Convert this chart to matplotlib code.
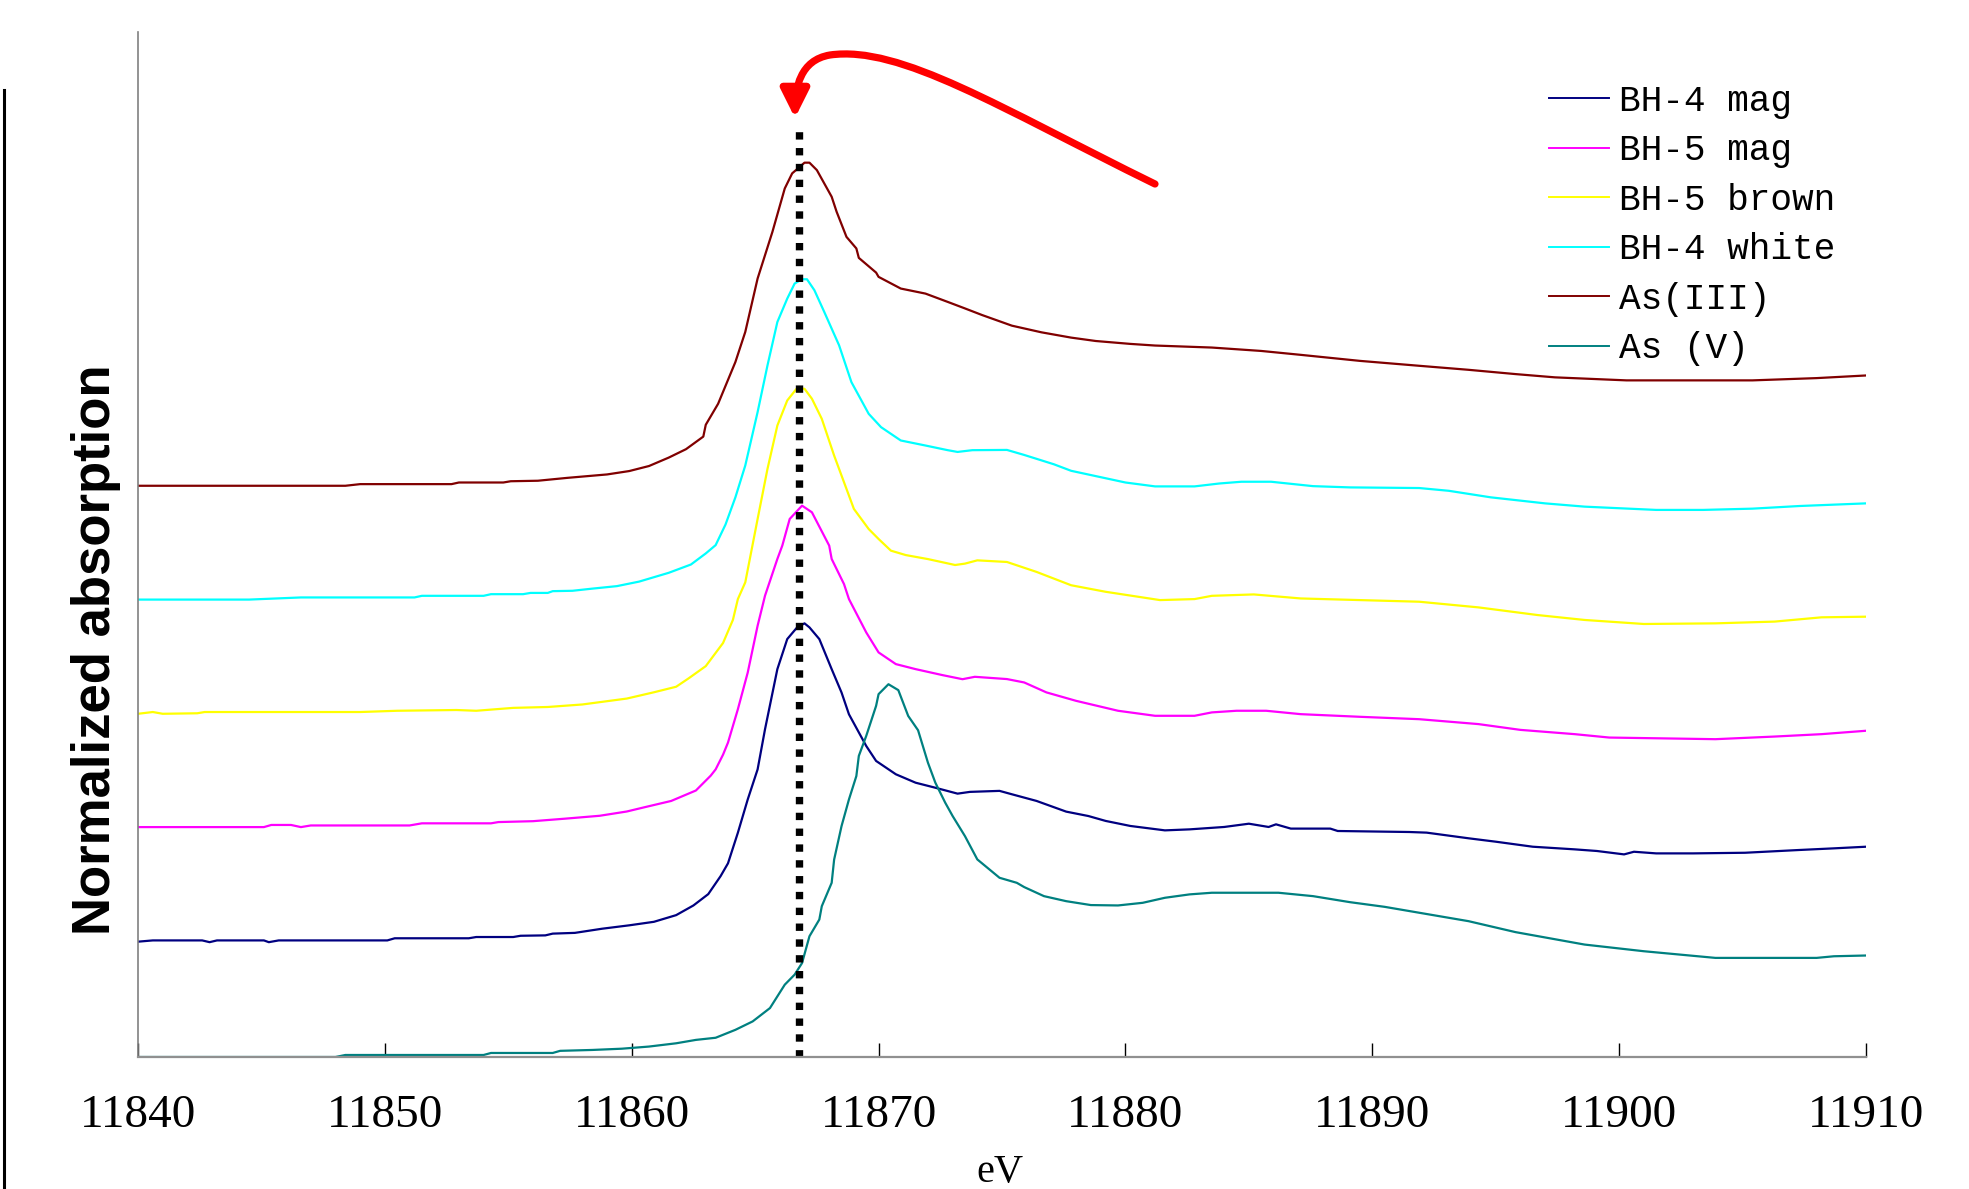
import numpy as np
import matplotlib
matplotlib.use("Agg")
import matplotlib.pyplot as plt
from matplotlib.path import Path
from matplotlib.patches import FancyArrowPatch
from matplotlib.lines import Line2D

# ---------------------------------------------------
# Data (energies in eV, stacked normalized absorption)
# ---------------------------------------------------

ev_bh4_mag = [11840.0, 11840.6, 11842.6, 11842.9, 11843.2, 11845.1, 11845.3, 11845.7, 11850.1, 11850.4,
              11853.4, 11853.7, 11855.2, 11855.5, 11856.5, 11856.8, 11857.7, 11858.8, 11859.9, 11860.9,
              11861.8, 11862.5, 11863.1, 11863.6, 11863.9, 11864.3, 11864.7, 11865.1, 11865.4, 11865.9,
              11866.3, 11866.7, 11867.0, 11867.2, 11867.6, 11868.1, 11868.5, 11868.8, 11869.5, 11869.9,
              11870.7, 11871.5, 11872.3, 11873.2, 11873.7, 11874.9, 11875.4, 11876.4, 11877.6, 11878.5,
              11879.2, 11880.2, 11881.6, 11882.6, 11884.0, 11885.0, 11885.8, 11886.1, 11886.7, 11888.3,
              11888.6, 11891.5, 11892.2, 11893.9, 11895.0, 11896.5, 11898.2, 11899.1, 11900.2, 11900.6,
              11901.5, 11903.0, 11905.1, 11907.3, 11908.7, 11910.0]
bh4_mag = [0.917, 0.927, 0.927, 0.913, 0.927, 0.927, 0.913, 0.927, 0.927, 0.944,
           0.944, 0.954, 0.954, 0.964, 0.967, 0.981, 0.987, 1.020, 1.047, 1.075,
           1.128, 1.205, 1.295, 1.438, 1.540, 1.783, 2.048, 2.287, 2.606, 3.084,
           3.323, 3.416, 3.448, 3.416, 3.323, 3.084, 2.898, 2.725, 2.473, 2.354,
           2.248, 2.181, 2.141, 2.094, 2.108, 2.116, 2.089, 2.036, 1.951, 1.916,
           1.877, 1.837, 1.802, 1.810, 1.829, 1.855, 1.829, 1.850, 1.816, 1.816,
           1.797, 1.789, 1.784, 1.739, 1.712, 1.672, 1.651, 1.638, 1.611, 1.632,
           1.619, 1.619, 1.624, 1.646, 1.659, 1.672]

ev_bh5_mag = [11840.0, 11845.1, 11845.4, 11846.2, 11846.6, 11847.0, 11851.0, 11851.5, 11854.3, 11854.6,
              11856.0, 11857.3, 11858.7, 11859.8, 11860.5, 11861.6, 11862.6, 11863.2, 11863.4, 11863.7,
              11863.9, 11864.3, 11864.7, 11865.1, 11865.4, 11865.9, 11866.1, 11866.4, 11866.9, 11867.3,
              11868.0, 11868.1, 11868.6, 11868.8, 11869.5, 11870.0, 11870.7, 11871.5, 11872.6, 11873.4,
              11873.9, 11875.2, 11875.9, 11876.8, 11878.0, 11879.7, 11881.2, 11882.8, 11883.5, 11884.5,
              11885.7, 11887.1, 11889.5, 11891.9, 11894.3, 11896.0, 11898.2, 11899.6, 11903.9, 11906.3,
              11908.2, 11910.0]
bh5_mag = [1.828, 1.828, 1.845, 1.845, 1.828, 1.841, 1.841, 1.858, 1.858, 1.868,
           1.875, 1.895, 1.918, 1.952, 1.985, 2.036, 2.119, 2.237, 2.287, 2.404,
           2.500, 2.765, 3.057, 3.429, 3.668, 3.960, 4.066, 4.278, 4.384, 4.331,
           4.066, 3.960, 3.760, 3.641, 3.376, 3.217, 3.124, 3.084, 3.036, 3.004,
           3.023, 3.005, 2.978, 2.899, 2.832, 2.753, 2.713, 2.713, 2.740, 2.753,
           2.753, 2.726, 2.705, 2.686, 2.647, 2.601, 2.567, 2.540, 2.527, 2.548,
           2.567, 2.594]

ev_bh5_brown = [11840.0, 11840.6, 11841.0, 11842.4, 11842.7, 11849.0, 11850.5, 11852.9, 11853.7, 11855.2,
                11856.6, 11858.0, 11859.8, 11860.9, 11861.8, 11862.3, 11863.0, 11863.7, 11864.1, 11864.3,
                11864.6, 11865.1, 11865.5, 11865.9, 11866.3, 11866.7, 11867.0, 11867.3, 11867.7, 11868.2,
                11869.0, 11869.6, 11870.0, 11870.5, 11871.1, 11872.0, 11873.1, 11873.5, 11874.0, 11875.2,
                11876.4, 11877.8, 11879.2, 11881.4, 11882.8, 11883.5, 11885.2, 11887.1, 11889.5, 11891.9,
                11894.3, 11896.7, 11898.6, 11901.0, 11903.9, 11906.3, 11908.2, 11910.0]
bh5_brown = [2.729, 2.743, 2.729, 2.733, 2.743, 2.743, 2.753, 2.759, 2.753, 2.776,
             2.783, 2.803, 2.850, 2.900, 2.944, 3.010, 3.108, 3.292, 3.476, 3.641,
             3.774, 4.278, 4.676, 5.021, 5.220, 5.319, 5.313, 5.234, 5.074, 4.782,
             4.358, 4.198, 4.119, 4.026, 3.991, 3.959, 3.912, 3.923, 3.949, 3.936,
             3.857, 3.751, 3.699, 3.633, 3.641, 3.667, 3.678, 3.646, 3.633, 3.620,
             3.575, 3.514, 3.475, 3.443, 3.448, 3.462, 3.496, 3.501]

ev_bh4_white = [11840.0, 11844.5, 11846.6, 11851.2, 11851.5, 11854.0, 11854.3, 11855.6, 11855.9, 11856.6,
                11856.8, 11857.6, 11858.4, 11859.4, 11860.3, 11861.5, 11862.4, 11863.0, 11863.4, 11863.8,
                11864.2, 11864.6, 11865.1, 11865.5, 11865.9, 11866.3, 11866.6, 11866.9, 11867.1, 11867.4,
                11867.8, 11868.4, 11868.9, 11869.6, 11870.1, 11870.9, 11871.9, 11872.8, 11873.2, 11873.8,
                11875.2, 11875.9, 11877.1, 11877.8, 11880.0, 11881.2, 11882.8, 11883.8, 11884.7, 11885.9,
                11887.6, 11889.1, 11891.9, 11893.1, 11894.8, 11897.0, 11898.6, 11901.5, 11903.4, 11905.4,
                11907.3, 11910.0]
bh4_white = [3.637, 3.637, 3.654, 3.654, 3.667, 3.667, 3.680, 3.680, 3.690, 3.690,
             3.704, 3.707, 3.724, 3.744, 3.780, 3.850, 3.916, 4.004, 4.070, 4.234,
             4.450, 4.703, 5.128, 5.499, 5.844, 6.030, 6.150, 6.184, 6.184, 6.097,
             5.924, 5.659, 5.366, 5.114, 5.008, 4.902, 4.862, 4.825, 4.811, 4.825,
             4.827, 4.787, 4.713, 4.661, 4.568, 4.537, 4.537, 4.560, 4.574, 4.574,
             4.539, 4.529, 4.524, 4.502, 4.450, 4.402, 4.376, 4.350, 4.350, 4.360,
             4.381, 4.402]

ev_as3 = [11840.0, 11848.4, 11849.0, 11852.7, 11853.0, 11854.8, 11855.1, 11856.2, 11857.4, 11859.0,
          11859.9, 11860.7, 11861.5, 11862.2, 11862.9, 11863.0, 11863.5, 11864.2, 11864.6, 11865.1,
          11865.7, 11866.2, 11866.5, 11867.0, 11867.2, 11867.5, 11868.1, 11868.3, 11868.7, 11869.1,
          11869.2, 11869.9, 11870.0, 11870.9, 11871.9, 11872.8, 11873.5, 11874.2, 11875.4, 11876.6,
          11877.8, 11878.8, 11880.2, 11881.2, 11883.5, 11885.5, 11887.1, 11889.5, 11891.9, 11893.9,
          11895.8, 11897.4, 11900.3, 11905.4, 11908.0, 11910.0]
as3 = [4.542, 4.542, 4.555, 4.555, 4.568, 4.568, 4.578, 4.582, 4.605, 4.632,
       4.659, 4.699, 4.766, 4.833, 4.933, 5.027, 5.194, 5.526, 5.765, 6.190,
       6.561, 6.906, 7.026, 7.111, 7.111, 7.052, 6.840, 6.721, 6.521, 6.429,
       6.354, 6.237, 6.203, 6.110, 6.070, 6.004, 5.952, 5.899, 5.815, 5.762,
       5.720, 5.693, 5.670, 5.657, 5.641, 5.614, 5.583, 5.535, 5.496, 5.464,
       5.430, 5.404, 5.380, 5.380, 5.398, 5.419]

ev_as5 = [11840.0, 11848.0, 11848.4, 11854.0, 11854.3, 11856.8, 11857.1, 11858.4, 11859.6, 11860.7,
          11861.8, 11862.6, 11863.4, 11864.2, 11864.9, 11865.6, 11866.2, 11866.6, 11866.9, 11867.2,
          11867.6, 11867.7, 11868.1, 11868.2, 11868.5, 11868.8, 11869.1, 11869.2, 11869.5, 11869.9,
          11870.0, 11870.4, 11870.8, 11871.2, 11871.6, 11872.0, 11872.3, 11872.7, 11873.0, 11873.5,
          11874.0, 11874.9, 11875.6, 11875.9, 11876.7, 11877.6, 11878.6, 11879.7, 11880.7, 11881.6,
          11882.6, 11883.5, 11886.2, 11887.6, 11889.1, 11890.5, 11891.9, 11893.9, 11895.8, 11898.6,
          11901.0, 11903.9, 11908.0, 11908.7, 11910.0]
as5 = [0.000, 0.000, 0.016, 0.016, 0.032, 0.032, 0.049, 0.056, 0.066, 0.083,
       0.109, 0.136, 0.153, 0.216, 0.283, 0.389, 0.575, 0.655, 0.747, 0.960,
       1.093, 1.199, 1.385, 1.570, 1.836, 2.048, 2.234, 2.394, 2.553, 2.792,
       2.885, 2.964, 2.917, 2.712, 2.598, 2.340, 2.181, 2.022, 1.916, 1.756,
       1.571, 1.425, 1.385, 1.351, 1.279, 1.239, 1.208, 1.205, 1.226, 1.266,
       1.293, 1.306, 1.306, 1.279, 1.231, 1.194, 1.147, 1.080, 0.993, 0.894,
       0.841, 0.788, 0.788, 0.801, 0.807]

edge_ev = 11866.76       # dotted marker at the As(III) white line
edge_top = 7.40

series = [
    ("BH-4 mag", ev_bh4_mag, bh4_mag, "#000080"),
    ("BH-5 mag", ev_bh5_mag, bh5_mag, "#ff00ff"),
    ("BH-5 brown", ev_bh5_brown, bh5_brown, "#ffff00"),
    ("BH-4 white", ev_bh4_white, bh4_white, "#00ffff"),
    ("As(III)", ev_as3, as3, "#800000"),
    ("As (V)", ev_as5, as5, "#008080"),
]

# ---------------------------------------------------
# Figure
# ---------------------------------------------------
W, H = 1969, 1189
fig = plt.figure(figsize=(W / 100, H / 100), dpi=100)
ax = fig.add_axes([138 / W, 1 - 1057 / H, (1866 - 138) / W, (1057 - 32) / H])

for label, x, y, c in series:
    ax.plot(x, y, color=c, lw=1.6, label=label)

ax.plot([edge_ev, edge_ev], [0, edge_top], color="black", lw=5.3,
        dashes=(1.0, 1.15), solid_capstyle="butt", dash_capstyle="butt")

ax.set_xlim(11840, 11910)
ax.set_ylim(0, 8.15)
ax.set_xticks(np.arange(11840, 11911, 10))
ax.set_yticks([])
ax.tick_params(axis="x", direction="in", length=10, width=1, color="black", pad=27)
for t in ax.get_xticklabels():
    t.set_fontfamily("Liberation Serif")
    t.set_fontsize(34)
ax.spines["top"].set_visible(False)
ax.spines["right"].set_visible(False)
ax.spines["left"].set_color("#808080")
ax.spines["left"].set_linewidth(1.2)
ax.spines["bottom"].set_color("#909090")
ax.spines["bottom"].set_linewidth(1.6)

fig.text(1000 / W, 1 - 1182 / H, "eV", ha="center", va="baseline",
         fontsize=29, fontfamily="Liberation Serif")
fig.text(96 / W, 1 - 650 / H, "Normalized absorption", rotation=90, ha="center", va="center",
         fontsize=38, fontweight="bold", fontfamily="Liberation Sans")

leg = ax.legend(loc="upper left", bbox_to_anchor=(1531 / W, 1 - 66 / H),
                bbox_transform=fig.transFigure, frameon=False, borderpad=0,
                handlelength=1.65, handletextpad=0.3, labelspacing=0.4,
                prop={"family": "Liberation Mono", "size": 26})
for ln in leg.get_lines():
    ln.set_linewidth(1.4)

# left border line of the figure
fig.add_artist(Line2D([4 / W, 4 / W], [0, 1 - 90 / H], color="black", lw=2.2,
                      transform=fig.transFigure))

# red curved arrow
pts = [(1155, 184), (1000, 108), (900, 45), (830, 55), (800, 60), (795, 88), (795, 118)]
verts = [(px / W, 1 - py / H) for px, py in pts]
codes = [Path.MOVETO] + [Path.CURVE4] * 6
arrow = FancyArrowPatch(path=Path(verts, codes), arrowstyle="-|>,head_length=17,head_width=8.5",
                        mutation_scale=1, color="#ff0000", lw=5.2, transform=fig.transFigure)
fig.add_artist(arrow)

fig.savefig("out.png", dpi=100)
